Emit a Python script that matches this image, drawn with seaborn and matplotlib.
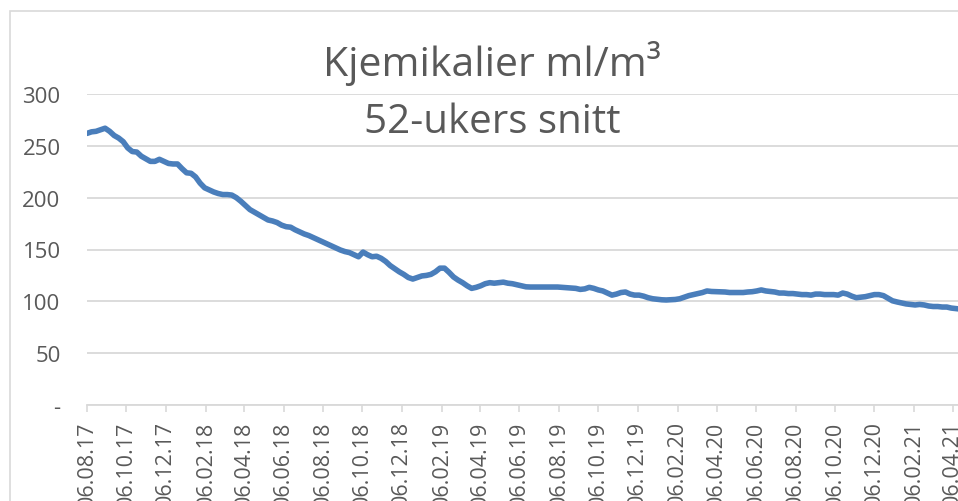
import numpy as np
import pandas as pd
import matplotlib.pyplot as plt
import matplotlib.dates as mdates
from matplotlib.patches import Rectangle
import seaborn as sns

sns.set_theme(style="white")
plt.rcParams['font.family'] = ['Open Sans', 'DejaVu Sans']

# weekly 52-week rolling average, first week 06.08.17
start_date = "2017-08-06"
snitt = [
    262, 263.5, 264, 265.5, 267, 264, 260, 257.5, 254, 248,
    244.5, 244, 240, 237.5, 235, 235, 237, 235, 233, 232.5,
    232.5, 228, 224, 223.5, 220, 214, 209.5, 207.5, 205.5, 204,
    203, 203, 202.5, 200, 196.5, 192.5, 188.5, 186, 183.5, 181,
    178.5, 177.5, 176, 173.5, 172, 171.5, 169, 167, 165, 163.5,
    161.5, 159.5, 157.5, 155.5, 153.5, 151.5, 149.5, 148, 147, 145,
    143, 147.5, 145, 143, 143.5, 141.5, 138.5, 134.5, 131.5, 128.5,
    126, 123, 121.5, 123, 124.5, 125, 126, 128.5, 132, 132,
    128, 123.5, 120.5, 118, 115, 112.5, 113.5, 115, 117, 118,
    117.5, 118, 118.5, 117.5, 117, 116, 115, 114, 113.8, 113.8,
    113.8, 113.8, 113.8, 113.8, 113.8, 113.5, 113.3, 113, 112.5, 111.5,
    112, 113.5, 112.5, 111, 110, 108, 106, 107, 108.5, 109,
    107, 106, 106, 105, 103.5, 102.5, 102, 101.5, 101.3, 101.5,
    101.8, 102.5, 104, 105.5, 106.5, 107.5, 108.5, 110, 109.5, 109.3,
    109, 109, 108.5, 108.5, 108.5, 108.5, 109, 109.3, 110, 111,
    110, 109.5, 109, 108, 108, 107.5, 107.5, 107, 106.5, 106.5,
    106, 107, 107, 106.5, 106.5, 106.5, 106, 108, 107, 105,
    103.5, 104, 104.5, 105.5, 106.5, 106.5, 105.5, 103, 100.5, 99.4,
    98.5, 97.5, 97, 96.5, 97, 96.5, 95.5, 95, 95, 94.5,
    94.5, 93.5, 93, 92.5,
]
y_ticks = [0, 50, 100, 150, 200, 250, 300]
y_labels = ["-", "50", "100", "150", "200", "250", "300"]

df = pd.DataFrame({
    "uke": pd.date_range(start_date, periods=len(snitt), freq="7D"),
    "snitt": snitt,
})

grey = "#595959"
light = "#d9d9d9"

fig = plt.figure(figsize=(9.58, 5.02), dpi=100)
fig.patches.append(Rectangle((10 / 958, -0.1), 1.2, (502 - 12) / 502 + 0.1,
                             transform=fig.transFigure, fill=False,
                             edgecolor=light, linewidth=1.2))
ax = fig.add_axes([87 / 958, 96 / 502, 0.9238, 311 / 502])

sns.lineplot(data=df, x="uke", y="snitt", ax=ax, color="#4a7ebb",
             linewidth=4, solid_capstyle="round")

ax.set_xlim(pd.Timestamp(start_date), pd.Timestamp("2021-05-06"))
ax.set_ylim(0, 300)
ax.set_yticks(y_ticks)
ax.set_yticklabels(y_labels)
ax.yaxis.grid(True, color=light, linewidth=1.3)
ax.xaxis.grid(False)

ax.xaxis.set_major_locator(mdates.MonthLocator(bymonth=[2, 4, 6, 8, 10, 12], bymonthday=6))
ax.xaxis.set_major_formatter(mdates.DateFormatter("%d.%m.%y"))
ax.tick_params(axis="x", rotation=90, labelsize=15.5, labelcolor=grey,
               bottom=True, length=5, width=1.2, color=light, pad=6)
ax.tick_params(axis="y", labelsize=16, labelcolor=grey, left=False, pad=13)

for side in ["top", "right", "left"]:
    ax.spines[side].set_visible(False)
ax.spines["bottom"].set_color(light)
ax.spines["bottom"].set_linewidth(1.3)
ax.set_xlabel("")
ax.set_ylabel("")

fig.text(492 / 958, 1 - 76 / 502, "Kjemikalier ml/m³", ha="center", va="baseline",
         fontsize=29.5, color=grey)
fig.text(492 / 958, 1 - 133 / 502, "52-ukers snitt", ha="center", va="baseline",
         fontsize=29, color=grey)

fig.savefig("out.png", dpi=100)
